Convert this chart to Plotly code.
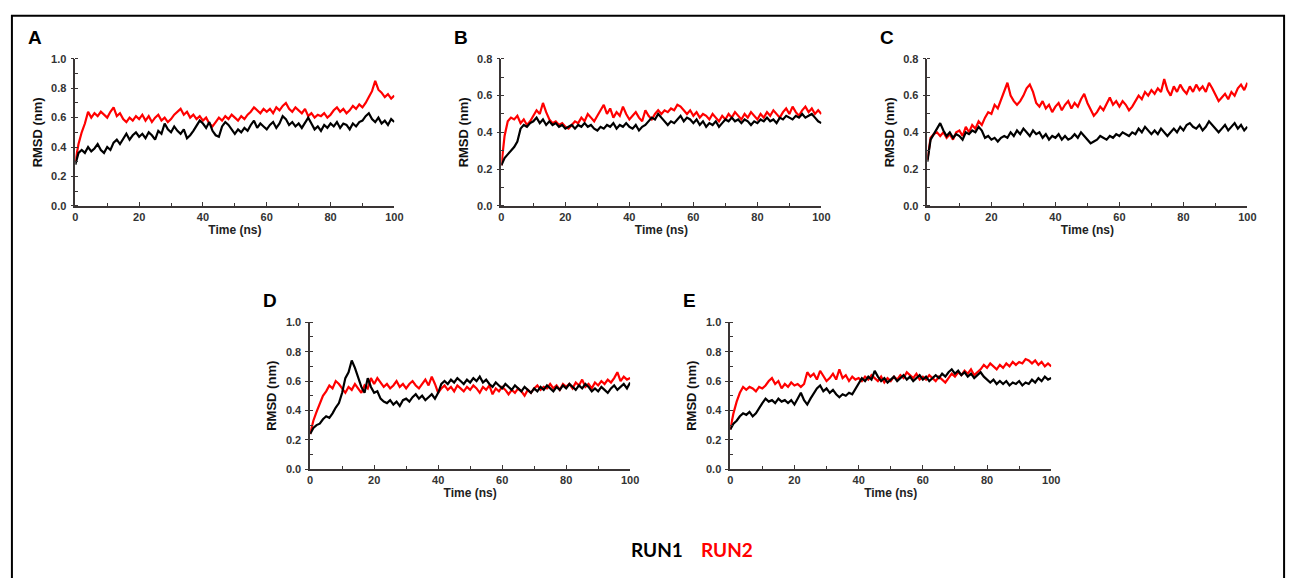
import plotly.graph_objects as go

# time axis (ns)
time_ns = list(range(0, 101))

# RMSD (nm), one value per ns
A_run1 = [0.28, 0.36, 0.38, 0.36, 0.40, 0.37, 0.39, 0.42, 0.38, 0.36,
          0.40, 0.38, 0.43, 0.45, 0.42, 0.46, 0.49, 0.45, 0.48, 0.50,
          0.47, 0.49, 0.46, 0.50, 0.48, 0.45, 0.51, 0.49, 0.56, 0.52,
          0.50, 0.54, 0.51, 0.49, 0.52, 0.46, 0.48, 0.51, 0.55, 0.58,
          0.56, 0.53, 0.57, 0.51, 0.48, 0.47, 0.54, 0.57, 0.55, 0.52,
          0.49, 0.52, 0.50, 0.53, 0.51, 0.55, 0.58, 0.53, 0.56, 0.54,
          0.52, 0.55, 0.57, 0.53, 0.56, 0.61, 0.59, 0.55, 0.57, 0.54,
          0.56, 0.53, 0.57, 0.60, 0.56, 0.52, 0.54, 0.51, 0.55, 0.53,
          0.56, 0.54, 0.57, 0.53, 0.56, 0.55, 0.52, 0.56, 0.54, 0.57,
          0.58, 0.61, 0.63, 0.59, 0.57, 0.60, 0.56, 0.58, 0.55, 0.59, 0.57]
A_run2 = [0.30, 0.42, 0.50, 0.56, 0.64, 0.60, 0.63, 0.61, 0.64, 0.62,
          0.60, 0.64, 0.67, 0.61, 0.63, 0.59, 0.57, 0.60, 0.58, 0.61,
          0.59, 0.62, 0.58, 0.61, 0.57, 0.60, 0.62, 0.58, 0.60, 0.57,
          0.59, 0.62, 0.64, 0.66, 0.62, 0.64, 0.60, 0.62, 0.59, 0.61,
          0.58, 0.60, 0.56, 0.54, 0.57, 0.60, 0.58, 0.61, 0.59, 0.62,
          0.60, 0.58, 0.61, 0.59, 0.62, 0.64, 0.67, 0.65, 0.63, 0.66,
          0.64, 0.66, 0.63, 0.67, 0.65, 0.68, 0.70, 0.66, 0.64, 0.67,
          0.65, 0.63, 0.66, 0.61, 0.63, 0.60, 0.62, 0.61, 0.63, 0.60,
          0.62, 0.65, 0.67, 0.64, 0.66, 0.63, 0.65, 0.68, 0.66, 0.69,
          0.67, 0.70, 0.74, 0.78, 0.85, 0.79, 0.77, 0.74, 0.76, 0.73, 0.75]

B_run1 = [0.22, 0.26, 0.28, 0.30, 0.32, 0.35, 0.42, 0.44, 0.43, 0.45,
          0.46, 0.48, 0.45, 0.47, 0.44, 0.46, 0.44, 0.45, 0.43, 0.44,
          0.42, 0.43, 0.44, 0.42, 0.44, 0.43, 0.45, 0.43, 0.44, 0.42,
          0.41, 0.43, 0.42, 0.44, 0.43, 0.45, 0.42, 0.44, 0.43, 0.45,
          0.43, 0.42, 0.44, 0.41, 0.43, 0.44, 0.46, 0.48, 0.47, 0.50,
          0.48, 0.46, 0.44, 0.46, 0.45, 0.47, 0.49, 0.46, 0.48, 0.47,
          0.45, 0.47, 0.44, 0.46, 0.43, 0.45, 0.44, 0.46, 0.43, 0.45,
          0.47, 0.46, 0.48, 0.46, 0.47, 0.45, 0.47, 0.46, 0.44, 0.46,
          0.45, 0.47, 0.46, 0.48, 0.46, 0.47, 0.45, 0.48, 0.47, 0.49,
          0.48, 0.47, 0.49, 0.48, 0.50, 0.48, 0.49, 0.50, 0.48, 0.46, 0.45]
B_run2 = [0.22, 0.38, 0.46, 0.48, 0.47, 0.49, 0.45, 0.47, 0.44, 0.46,
          0.49, 0.52, 0.50, 0.56, 0.51, 0.47, 0.45, 0.46, 0.44, 0.45,
          0.43, 0.42, 0.44, 0.46, 0.45, 0.48, 0.46, 0.50, 0.48, 0.46,
          0.49, 0.52, 0.55, 0.50, 0.53, 0.48, 0.51, 0.49, 0.54, 0.50,
          0.47, 0.49, 0.51, 0.48, 0.46, 0.52, 0.49, 0.47, 0.50, 0.52,
          0.50, 0.52, 0.51, 0.53, 0.52, 0.55, 0.54, 0.52, 0.50, 0.52,
          0.49, 0.51, 0.48, 0.50, 0.49, 0.47, 0.50, 0.48, 0.46, 0.49,
          0.47, 0.50, 0.48, 0.51, 0.49, 0.47, 0.50, 0.48, 0.51, 0.49,
          0.47, 0.50, 0.48, 0.51, 0.49, 0.52, 0.50, 0.48, 0.51, 0.53,
          0.50, 0.54, 0.51, 0.49, 0.52, 0.54, 0.51, 0.53, 0.50, 0.52, 0.50]

C_run1 = [0.24, 0.36, 0.39, 0.42, 0.45, 0.41, 0.38, 0.40, 0.37, 0.39,
          0.38, 0.36, 0.40, 0.39, 0.41, 0.40, 0.43, 0.41, 0.37, 0.38,
          0.36, 0.37, 0.35, 0.37, 0.38, 0.37, 0.40, 0.38, 0.41, 0.39,
          0.42, 0.40, 0.38, 0.41, 0.39, 0.40, 0.37, 0.39, 0.36, 0.38,
          0.37, 0.39, 0.36, 0.38, 0.36, 0.37, 0.39, 0.37, 0.40, 0.38,
          0.36, 0.34, 0.35, 0.36, 0.38, 0.37, 0.36, 0.38, 0.37, 0.39,
          0.38, 0.40, 0.39, 0.38, 0.40, 0.39, 0.42, 0.40, 0.43, 0.41,
          0.39, 0.41, 0.39, 0.42, 0.40, 0.38, 0.40, 0.42, 0.40, 0.43,
          0.41, 0.44, 0.45, 0.43, 0.42, 0.44, 0.41, 0.43, 0.46, 0.44,
          0.42, 0.40, 0.42, 0.44, 0.41, 0.43, 0.45, 0.42, 0.44, 0.41, 0.43]
C_run2 = [0.25, 0.37, 0.39, 0.40, 0.38, 0.40, 0.37, 0.39, 0.36, 0.40,
          0.41, 0.38, 0.43, 0.40, 0.44, 0.42, 0.46, 0.44, 0.48, 0.51,
          0.50, 0.55, 0.53, 0.58, 0.62, 0.67, 0.60, 0.57, 0.55, 0.57,
          0.60, 0.64, 0.66, 0.62, 0.56, 0.54, 0.57, 0.53, 0.55, 0.51,
          0.54, 0.56, 0.52, 0.55, 0.57, 0.53, 0.56, 0.54, 0.58, 0.61,
          0.56, 0.52, 0.49, 0.51, 0.54, 0.52, 0.56, 0.59, 0.55, 0.57,
          0.54, 0.57, 0.55, 0.52, 0.54, 0.57, 0.60, 0.58, 0.62, 0.60,
          0.63, 0.61, 0.64, 0.62, 0.69, 0.63, 0.60, 0.65, 0.62, 0.66,
          0.63, 0.61, 0.65, 0.62, 0.66, 0.63, 0.65, 0.62, 0.67, 0.64,
          0.60, 0.57, 0.59, 0.61, 0.58, 0.62, 0.60, 0.64, 0.66, 0.63, 0.67]

D_run1 = [0.24, 0.28, 0.30, 0.31, 0.34, 0.36, 0.35, 0.38, 0.42, 0.45,
          0.52, 0.62, 0.66, 0.74, 0.69, 0.62, 0.56, 0.52, 0.62, 0.56,
          0.52, 0.53, 0.48, 0.46, 0.45, 0.47, 0.44, 0.46, 0.43, 0.47,
          0.48, 0.46, 0.49, 0.51, 0.48, 0.50, 0.47, 0.49, 0.51, 0.48,
          0.52, 0.58, 0.60, 0.58, 0.61, 0.59, 0.62, 0.60, 0.58, 0.61,
          0.59, 0.62, 0.60, 0.63, 0.59, 0.61, 0.58, 0.56, 0.59, 0.57,
          0.55, 0.58, 0.56, 0.54, 0.57, 0.55, 0.53, 0.56, 0.54, 0.52,
          0.55, 0.53, 0.56, 0.54, 0.57, 0.55, 0.53, 0.56, 0.54, 0.57,
          0.55, 0.58, 0.56, 0.54, 0.57, 0.55, 0.58, 0.56, 0.53, 0.55,
          0.53, 0.56, 0.54, 0.52, 0.55, 0.57, 0.54, 0.56, 0.58, 0.55, 0.59]
D_run2 = [0.24, 0.33, 0.39, 0.44, 0.50, 0.53, 0.57, 0.55, 0.60, 0.58,
          0.55, 0.52, 0.56, 0.54, 0.58, 0.55, 0.52, 0.57, 0.55, 0.62,
          0.58, 0.62, 0.59, 0.56, 0.58, 0.55, 0.57, 0.60, 0.56, 0.58,
          0.55, 0.58, 0.60, 0.57, 0.55, 0.58, 0.61, 0.57, 0.63, 0.58,
          0.52, 0.55, 0.57, 0.54, 0.56, 0.53, 0.57, 0.55, 0.53, 0.56,
          0.54, 0.57, 0.55, 0.52, 0.56, 0.54, 0.57, 0.51, 0.55, 0.53,
          0.56, 0.54, 0.51, 0.54, 0.52, 0.55, 0.53, 0.50, 0.54, 0.52,
          0.55, 0.57, 0.54, 0.56, 0.55, 0.58, 0.55, 0.57, 0.54, 0.58,
          0.56, 0.58, 0.55, 0.59, 0.57, 0.61, 0.56, 0.58, 0.55, 0.59,
          0.57, 0.60, 0.58, 0.61, 0.59, 0.62, 0.66, 0.60, 0.63, 0.61, 0.62]

E_run1 = [0.27, 0.31, 0.33, 0.36, 0.38, 0.37, 0.39, 0.36, 0.38, 0.42,
          0.45, 0.48, 0.46, 0.47, 0.45, 0.48, 0.46, 0.47, 0.45, 0.47,
          0.44, 0.48, 0.52, 0.47, 0.44, 0.48, 0.52, 0.55, 0.57, 0.53,
          0.55, 0.52, 0.54, 0.51, 0.49, 0.51, 0.50, 0.52, 0.51, 0.55,
          0.59, 0.62, 0.60, 0.63, 0.61, 0.67, 0.63, 0.60, 0.62, 0.59,
          0.61, 0.63, 0.60, 0.62, 0.64, 0.61, 0.63, 0.60, 0.62, 0.64,
          0.61, 0.63, 0.60, 0.62, 0.64, 0.62, 0.65, 0.63, 0.66, 0.68,
          0.65, 0.67, 0.64, 0.66, 0.63, 0.65, 0.62, 0.64, 0.66, 0.63,
          0.61, 0.59, 0.61, 0.58, 0.60, 0.58, 0.60, 0.57, 0.59, 0.58,
          0.60, 0.57, 0.59, 0.58, 0.61, 0.59, 0.62, 0.60, 0.63, 0.61, 0.62]
E_run2 = [0.27, 0.38, 0.46, 0.52, 0.56, 0.54, 0.56, 0.55, 0.53, 0.56,
          0.55, 0.57, 0.60, 0.62, 0.58, 0.60, 0.55, 0.58, 0.56, 0.59,
          0.57, 0.58, 0.56, 0.58, 0.66, 0.63, 0.65, 0.61, 0.67, 0.63,
          0.60, 0.62, 0.65, 0.61, 0.68, 0.62, 0.64, 0.60, 0.63, 0.61,
          0.62, 0.60, 0.63, 0.61, 0.64, 0.62, 0.60, 0.63, 0.59, 0.62,
          0.60, 0.63, 0.61, 0.64, 0.62, 0.66, 0.64, 0.62, 0.65, 0.61,
          0.63, 0.61, 0.64, 0.62, 0.60, 0.63, 0.61, 0.59, 0.62, 0.65,
          0.63, 0.66, 0.64, 0.67, 0.65, 0.68, 0.64, 0.66, 0.68, 0.71,
          0.69, 0.72, 0.70, 0.68, 0.71, 0.69, 0.72, 0.70, 0.73, 0.71,
          0.73, 0.72, 0.75, 0.74, 0.72, 0.74, 0.71, 0.73, 0.70, 0.72, 0.70]

panel_labels = ["A", "B", "C", "D", "E"]
run1_series = [A_run1, B_run1, C_run1, D_run1, E_run1]
run2_series = [A_run2, B_run2, C_run2, D_run2, E_run2]
y_max = [1.0, 0.8, 0.8, 1.0, 1.0]
legend_names = ["RUN1", "RUN2"]

W, H = 1302, 578
# plot-area boxes in pixels: x0, x1, ytop, ybottom
boxes = [(73, 395, 54, 204), (503, 826, 54, 204), (933, 1256, 54, 204),
         (310, 633, 323, 473), (734, 1058, 323, 473)]

AX_COL = '#3a3535'
FONT = 'Arial, Liberation Sans, sans-serif'

fig = go.Figure()
layout = {}
annots = []
for i, (lab, r1, r2, ym, box) in enumerate(zip(panel_labels, run1_series, run2_series, y_max, boxes)):
    n = '' if i == 0 else str(i + 1)
    x0, x1, yt, yb = box
    fig.add_trace(go.Scatter(x=time_ns, y=r2, mode='lines', line=dict(color='#ff0000', width=2.2),
                             xaxis='x' + n, yaxis='y' + n, showlegend=False))
    fig.add_trace(go.Scatter(x=time_ns, y=r1, mode='lines', line=dict(color='#000000', width=2.2),
                             xaxis='x' + n, yaxis='y' + n, showlegend=False))
    layout['xaxis' + n] = dict(
        domain=[x0 / W, x1 / W], anchor='y' + n, range=[0, 100], tickvals=[0, 20, 40, 60, 80, 100],
        ticks='inside', ticklen=4, tickwidth=1, tickcolor=AX_COL,
        minor=dict(dtick=10, ticks='inside', ticklen=3, tickcolor=AX_COL, showgrid=False),
        showline=True, linecolor=AX_COL, linewidth=1.5, showgrid=False, zeroline=False,
        tickfont=dict(family=FONT, size=11, color='#333333', weight='bold'),
        title=dict(text='<b>Time (ns)</b>', font=dict(family=FONT, size=12, color='#222222'), standoff=3))
    layout['yaxis' + n] = dict(
        domain=[1 - yb / H, 1 - yt / H], anchor='x' + n, range=[0, ym], dtick=0.2, tickformat='.1f',
        ticks='outside', ticklen=3, tickwidth=1, tickcolor=AX_COL, ticklabelstandoff=2,
        minor=dict(dtick=0.1, ticks='inside', ticklen=3, tickcolor=AX_COL, showgrid=False),
        showline=True, linecolor=AX_COL, linewidth=1.5, showgrid=False, zeroline=False,
        tickfont=dict(family=FONT, size=11, color='#333333', weight='bold'),
        title=dict(text='<b>RMSD (nm)</b>', font=dict(family=FONT, size=13, color='#111111'), standoff=6))
    annots.append(dict(text='<b>' + lab + '</b>', xref='paper', yref='paper',
                       x=(x0 - 50) / W, y=1 - (yt - 22) / H, xanchor='left', yanchor='middle',
                       showarrow=False, font=dict(family=FONT, size=19, color='#000000')))

annots.append(dict(text='<b>' + legend_names[0] + '</b>', xref='paper', yref='paper', x=688 / W, y=1 - 555 / H,
                   xanchor='right', yanchor='middle', showarrow=False,
                   font=dict(family='Lato, Open Sans, sans-serif', size=19, color='#000000')))
annots.append(dict(text='<b>' + legend_names[1] + '</b>', xref='paper', yref='paper', x=702 / W, y=1 - 555 / H,
                   xanchor='left', yanchor='middle', showarrow=False,
                   font=dict(family='Lato, Open Sans, sans-serif', size=19, color='#ff0000')))

# outer frame (open at the bottom edge of the picture)
shapes = [dict(type='rect', xref='paper', yref='paper', x0=9 / W, x1=1293 / W, y0=-0.05, y1=1 - 10 / H,
               line=dict(color='#000000', width=2))]

fig.update_layout(autosize=True, margin=dict(l=0, r=0, t=0, b=0), plot_bgcolor='white',
                  paper_bgcolor='white', annotations=annots, shapes=shapes, **layout)
fig.write_html("out.html", default_width='100vw', default_height='100vh',
               config={'displayModeBar': False, 'responsive': True},
               post_script="document.body.style.margin='0';document.body.style.overflow='hidden';")
